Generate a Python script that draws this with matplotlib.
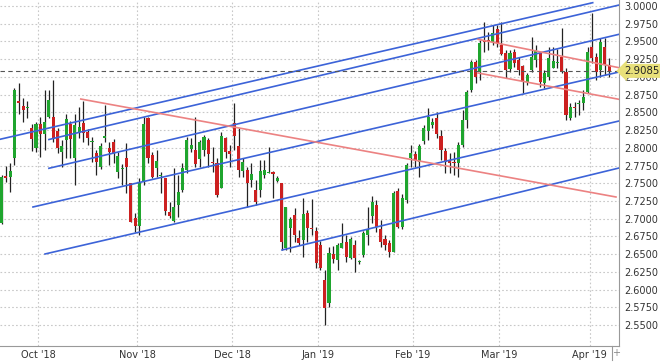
import numpy as np
import matplotlib
matplotlib.use("Agg")
import matplotlib.pyplot as plt

# daily candles, trading-day index 0..141 (18 Sep 2018 .. 5 Apr 2019)
opens = [2.694, 2.7606, 2.7592, 2.7852, 2.866, 2.8594, 2.856, 2.8275, 2.8001, 2.8331,
         2.8199, 2.8438, 2.8438, 2.8237, 2.7945, 2.811, 2.834, 2.786, 2.8218, 2.8354,
         2.8227, 2.8086, 2.7922, 2.7733, 2.8142, 2.8001, 2.8086, 2.7663, 2.7706, 2.786,
         2.7499, 2.7005, 2.6901, 2.7522, 2.8416, 2.7898, 2.7719, 2.7607, 2.7569, 2.7098,
         2.6967, 2.7193, 2.7404, 2.7687, 2.7983, 2.7969, 2.7842, 2.7969, 2.811, 2.780,
         2.7781, 2.7437, 2.8142, 2.7955, 2.8345, 2.8029, 2.7672, 2.7687, 2.7545, 2.7404,
         2.7404, 2.7616, 2.765, 2.7655, 2.7531, 2.7499, 2.6582, 2.6864, 2.7052, 2.6731,
         2.6699, 2.7076, 2.687, 2.683, 2.6628, 2.6135, 2.5806, 2.6502, 2.6417, 2.659,
         2.6676, 2.6441, 2.6629, 2.6385, 2.6488, 2.677, 2.7037, 2.7193, 2.685, 2.6709,
         2.6653, 2.6535, 2.7395, 2.6887, 2.7264, 2.7852, 2.7908, 2.7804, 2.81, 2.8241,
         2.8321, 2.8416, 2.8166, 2.7959, 2.7818, 2.779, 2.7781, 2.8039, 2.8392, 2.8815,
         2.9214, 2.9073, 2.951, 2.9515, 2.9496, 2.9671, 2.945, 2.9333, 2.9107, 2.9355,
         2.9238, 2.9154, 2.8932, 2.9097, 2.9238, 2.9333, 2.891, 2.9003, 2.913, 2.9203,
         2.9285, 2.9073, 2.8416, 2.8575, 2.8621, 2.8627, 2.8791, 2.9426, 2.9285, 2.9097,
         2.9426, 2.9168]
highs = [2.762, 2.775, 2.778, 2.8839, 2.892, 2.8698, 2.866, 2.8331, 2.8368, 2.843,
         2.8815, 2.8815, 2.8956, 2.8275, 2.811, 2.8472, 2.8378, 2.8472, 2.858, 2.866,
         2.827, 2.8156, 2.7969, 2.8068, 2.8604, 2.8086, 2.812, 2.7945, 2.7776, 2.8063,
         2.751, 2.7076, 2.757, 2.8438, 2.8438, 2.7945, 2.7969, 2.7663, 2.757, 2.724,
         2.771, 2.7616, 2.778, 2.8156, 2.8134, 2.8438, 2.8111, 2.818, 2.8134, 2.8016,
         2.7852, 2.8218, 2.8156, 2.8039, 2.8627, 2.8275, 2.7852, 2.7733, 2.7781, 2.7545,
         2.7828, 2.7828, 2.8016, 2.7672, 2.76, 2.7499, 2.7169, 2.7028, 2.7146, 2.684,
         2.7287, 2.7122, 2.7277, 2.6887, 2.668, 2.6276, 2.66, 2.662, 2.6653, 2.6935,
         2.677, 2.674, 2.6699, 2.642, 2.683, 2.7169, 2.732, 2.7264, 2.698, 2.677,
         2.6699, 2.7395, 2.743, 2.735, 2.7781, 2.8039, 2.795, 2.805, 2.8321, 2.8557,
         2.8415, 2.8509, 2.8251, 2.7993, 2.7922, 2.7946, 2.8086, 2.8533, 2.8815, 2.9238,
         2.9238, 2.952, 2.9779, 2.9638, 2.9732, 2.9732, 2.9779, 2.938, 2.938, 2.9394,
         2.9285, 2.9168, 2.905, 2.9567, 2.945, 2.9355, 2.9097, 2.9426, 2.9426, 2.94,
         2.9685, 2.9121, 2.8627, 2.865, 2.8675, 2.8815, 2.9426, 2.9897, 2.9333, 2.9544,
         2.9544, 2.9262]
lows = [2.692, 2.752, 2.738, 2.7757, 2.847, 2.8368, 2.842, 2.7955, 2.7936, 2.7874,
        2.7969, 2.842, 2.8086, 2.7922, 2.7733, 2.786, 2.786, 2.7475, 2.8134, 2.8086,
        2.804, 2.7804, 2.7616, 2.770, 2.8086, 2.7757, 2.778, 2.757, 2.7475, 2.7358,
        2.6955, 2.6816, 2.677, 2.7475, 2.7781, 2.7569, 2.7592, 2.7358, 2.7052, 2.7005,
        2.6957, 2.7028, 2.7372, 2.764, 2.7945, 2.7733, 2.7733, 2.788, 2.7733, 2.7663,
        2.731, 2.743, 2.7852, 2.7733, 2.7969, 2.7592, 2.7592, 2.7169, 2.7451, 2.7193,
        2.731, 2.7569, 2.764, 2.7287, 2.7518, 2.6558, 2.6558, 2.6534, 2.6675, 2.6629,
        2.6464, 2.6675, 2.677, 2.6304, 2.6276, 2.55, 2.5758, 2.637, 2.6276, 2.658,
        2.6393, 2.643, 2.6252, 2.636, 2.646, 2.663, 2.6935, 2.6816, 2.6605, 2.6558,
        2.6464, 2.6535, 2.687, 2.685, 2.7226, 2.7733, 2.7733, 2.7592, 2.8049, 2.811,
        2.828, 2.8134, 2.7828, 2.764, 2.764, 2.7616, 2.7592, 2.8016, 2.8275, 2.8791,
        2.891, 2.8956, 2.9355, 2.938, 2.945, 2.9426, 2.9309, 2.898, 2.9073, 2.9144,
        2.9027, 2.8768, 2.8885, 2.9073, 2.9144, 2.8862, 2.8839, 2.8956, 2.9121, 2.912,
        2.9051, 2.8392, 2.8392, 2.8438, 2.8462, 2.8533, 2.8768, 2.9192, 2.8956, 2.9003,
        2.9027, 2.9003]
closes = [2.759, 2.7578, 2.7677, 2.8815, 2.863, 2.8537, 2.858, 2.8124, 2.8331, 2.819,
          2.8368, 2.8674, 2.8124, 2.7993, 2.8029, 2.8406, 2.8124, 2.8321, 2.8297, 2.8204,
          2.8142, 2.810, 2.7804, 2.8025, 2.817, 2.7945, 2.793, 2.7884, 2.7715, 2.7733,
          2.6957, 2.6901, 2.7522, 2.8331, 2.786, 2.7592, 2.7814, 2.7616, 2.7108, 2.7042,
          2.7169, 2.738, 2.7711, 2.811, 2.8039, 2.7771, 2.8086, 2.8156, 2.7908, 2.779,
          2.7334, 2.817, 2.7945, 2.7908, 2.817, 2.7687, 2.7804, 2.7499, 2.7626, 2.7239,
          2.7672, 2.7687, 2.7655, 2.763, 2.757, 2.6675, 2.7169, 2.6996, 2.677, 2.6653,
          2.7062, 2.6864, 2.686, 2.6375, 2.6304, 2.574, 2.6519, 2.6427, 2.6629, 2.6653,
          2.6465, 2.6709, 2.6441, 2.6395, 2.6794, 2.684, 2.7239, 2.6887, 2.6675, 2.6629,
          2.6535, 2.7358, 2.6887, 2.729, 2.7757, 2.7922, 2.7828, 2.8029, 2.8275, 2.8438,
          2.8368, 2.8194, 2.7969, 2.7804, 2.779, 2.7781, 2.8039, 2.8392, 2.8791, 2.9214,
          2.9003, 2.9482, 2.9492, 2.9505, 2.9623, 2.9474, 2.9323, 2.9097, 2.9342, 2.9192,
          2.9097, 2.8932, 2.9027, 2.9285, 2.9379, 2.8932, 2.905, 2.9262, 2.9224, 2.921,
          2.9073, 2.8462, 2.858, 2.8565, 2.8627, 2.8721, 2.9355, 2.9262, 2.9073, 2.9497,
          2.9168, 2.9085]

# month boundaries (between candles) and their labels
month_pos = [8.5, 31.5, 53.5, 73.5, 95.5, 115.5, 136.5]
month_labels = ["Oct '18", "Nov '18", "Dec '18", "Jan '19", "Feb '19", "Mar '19", "Apr '19"]

# drawn trend lines: (start index, start value, end index, end value)
blue_lines = [(-0.35, 2.8120, 137.2, 3.0047),
              (11.0, 2.8117, 143.3, 3.0014),
              (11.0, 2.7711, 143.3, 2.9601),
              (7.3, 2.7165, 143.3, 2.9069),
              (10.1, 2.6502, 143.3, 2.8378),
              (65.1, 2.6558, 143.3, 2.7715)]
red_lines = [(18.4, 2.8688, 142.6, 2.7306),
             (110.6, 2.9530, 143.3, 2.9130),
             (110.6, 2.9055, 143.3, 2.8684)]

GREEN = "#1fa52e"
RED = "#cc2020"

o = np.array(opens)
h = np.array(highs)
l = np.array(lows)
c = np.array(closes)
x = np.arange(len(o))
h = np.maximum(h, np.maximum(o, c))
l = np.minimum(l, np.minimum(o, c))
up = c >= o

fig = plt.figure(figsize=(6.6, 3.62), dpi=100)
ax = fig.add_axes([0, 16 / 362, 619 / 660, 346 / 362])

# grid
ax.set_yticks(np.arange(2.55, 3.0001, 0.025))
ax.set_xticks(month_pos)
ax.set_xticklabels(month_labels)
ax.grid(True, color="#c8c8c8", linestyle=(0, (1.5, 2)), linewidth=0.8)
ax.set_axisbelow(True)

# candles
ax.vlines(x, l, h, color="#222222", linewidth=0.9, zorder=2)
colors = np.where(up, GREEN, RED)
bottoms = np.minimum(o, c)
heights = np.maximum(np.abs(c - o), 0.0012)
ax.bar(x, heights, bottom=bottoms, width=0.72, color=colors, linewidth=0, zorder=3)

# trend lines
for x0, y0, x1, y1 in blue_lines:
    ax.plot([x0, x1], [y0, y1], color="#3c63d8", linewidth=1.2, zorder=4)
for x0, y0, x1, y1 in red_lines:
    ax.plot([x0, x1], [y0, y1], color="#ec8282", linewidth=1.2, zorder=4)

# last price
last = closes[-1]
ax.axhline(last, color="#555555", linestyle=(0, (4, 3)), linewidth=0.8, zorder=4)

ax.set_xlim(-0.35, 143.3)
ax.set_ylim(2.5204, 3.0085)

ax.yaxis.tick_right()
ax.yaxis.set_major_formatter(matplotlib.ticker.FormatStrFormatter("%.4f"))
ax.tick_params(axis="both", length=0, labelsize=7, colors="#333333")
ax.tick_params(axis="y", pad=3.5)
ax.tick_params(axis="x", pad=3)
for side in ("left", "top"):
    ax.spines[side].set_visible(False)
for side in ("right", "bottom"):
    ax.spines[side].set_color("#999999")
    ax.spines[side].set_linewidth(0.8)

ax.annotate("%.4f" % last, xy=(1.0, last), xycoords=("axes fraction", "data"),
            xytext=(3.5, 0), textcoords="offset points", va="center", ha="left",
            fontsize=7.3, color="#222222", zorder=10, annotation_clip=False,
            bbox=dict(boxstyle="larrow,pad=0.2", facecolor="#e8e07a",
                      edgecolor="none"))

# scroll marker at the bottom right
fig.text(616 / 660, 1 - 353 / 362, "+", fontsize=7, color="#888888",
         ha="center", va="center")
fig.add_artist(plt.Line2D([612 / 660, 612 / 660], [1 - 360 / 362, 1 - 346 / 362],
                          transform=fig.transFigure, color="#999999", linewidth=0.8))

fig.savefig("out.png", dpi=100)
